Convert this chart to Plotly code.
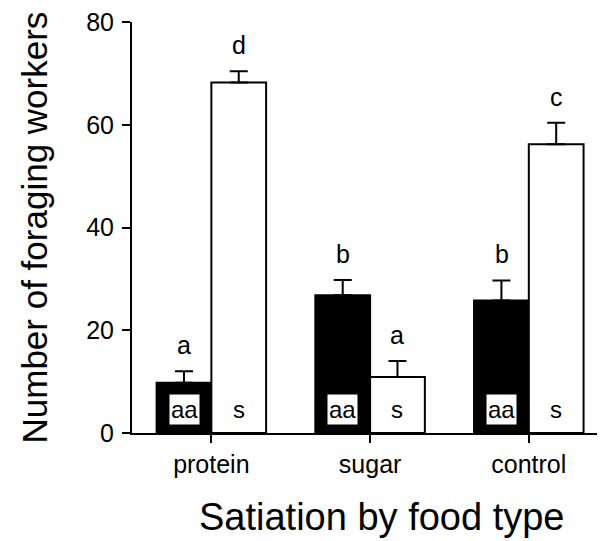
import plotly.graph_objects as go

categories = ["protein", "sugar", "control"]
aa_means = [9.8, 26.8, 25.8]
aa_err = [2.2, 3.0, 3.9]
s_means = [68.2, 10.9, 56.2]
s_err = [2.2, 3.1, 4.2]
aa_letters = ["a", "b", "b"]
s_letters = ["d", "a", "c"]
y_ticks = [0, 20, 40, 60, 80]

FONT = "Liberation Sans, Arial, Helvetica, sans-serif"

fig = go.Figure()
fig.add_trace(go.Bar(
    x=categories, y=aa_means, name="aa",
    marker=dict(color="black", line=dict(color="black", width=2)),
    error_y=dict(type="data", array=aa_err, arrayminus=[0]*3, symmetric=False,
                 color="black", thickness=2, width=9),
))
fig.add_trace(go.Bar(
    x=categories, y=s_means, name="s",
    marker=dict(color="white", line=dict(color="black", width=2)),
    error_y=dict(type="data", array=s_err, arrayminus=[0]*3, symmetric=False,
                 color="black", thickness=2, width=9),
))

off = 0.172
for i, c in enumerate(categories):
    fig.add_annotation(x=i - off, y=aa_means[i] + aa_err[i], text=aa_letters[i],
                       xref="x", yref="y", showarrow=False, yanchor="middle", yshift=26,
                       font=dict(size=25, color="black", family=FONT))
    fig.add_annotation(x=i + off, y=s_means[i] + s_err[i], text=s_letters[i],
                       xref="x", yref="y", showarrow=False, yanchor="middle", yshift=26,
                       font=dict(size=25, color="black", family=FONT))
    fig.add_annotation(x=i - off, y=4.5, text="aa", xref="x", yref="y", showarrow=False,
                       bgcolor="white", borderpad=1,
                       font=dict(size=24, color="black", family=FONT))
    fig.add_annotation(x=i + off, y=4.5, text="s", xref="x", yref="y", showarrow=False,
                       font=dict(size=24, color="black", family=FONT))

# axis titles
fig.add_annotation(text="Number of foraging workers", xref="paper", yref="paper",
                   x=0, y=0.5, xanchor="center", yanchor="middle", xshift=-98,
                   textangle=-90, showarrow=False,
                   font=dict(size=35, color="black", family=FONT))
fig.add_annotation(text="Satiation by food type", xref="paper", yref="paper",
                   x=0.5, y=0, xanchor="center", yanchor="middle", yshift=-84, xshift=13,
                   showarrow=False,
                   font=dict(size=38, color="black", family=FONT))

fig.update_layout(
    width=605, height=541,
    margin=dict(l=124, r=8, t=14, b=116),
    paper_bgcolor="white", plot_bgcolor="white",
    barmode="group", bargap=0.31, bargroupgap=0,
    showlegend=False,
    font=dict(family=FONT, color="black"),
    xaxis=dict(
        range=[-0.5, 2.48], showline=True, linecolor="black", linewidth=2,
        ticks="outside", ticklen=8, tickwidth=2, tickcolor="black",
        tickfont=dict(size=25), showgrid=False, zeroline=False, automargin=False,
    ),
    yaxis=dict(
        range=[0, 80], tickvals=y_ticks, showline=True, linecolor="black", linewidth=2,
        ticks="outside", ticklen=8, tickwidth=2, tickcolor="black", ticklabelstandoff=3,
        ticklabeloverflow="allow",
        tickfont=dict(size=25), showgrid=False, zeroline=False, automargin=False,
    ),
)

fig.write_html("out.html")
